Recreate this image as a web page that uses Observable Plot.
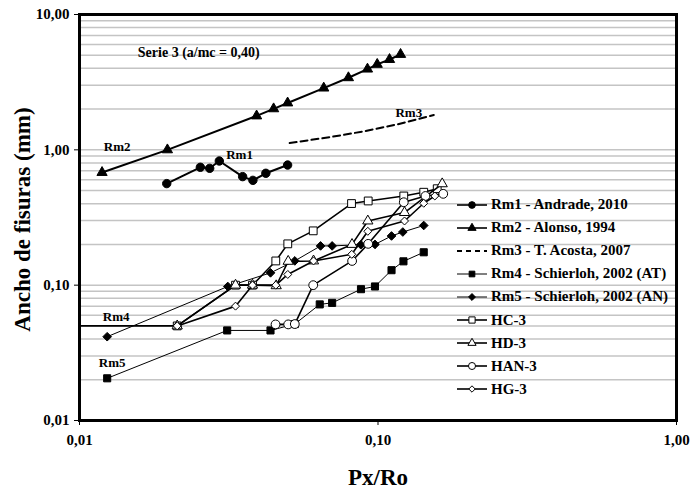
<!DOCTYPE html>
<html><head><meta charset="utf-8">
<script src="https://cdn.jsdelivr.net/npm/d3@7"></script>
<script src="https://cdn.jsdelivr.net/npm/@observablehq/plot@0.6"></script>
<style>
body{margin:0;background:#fff;}
#wrap{position:relative;width:690px;height:492px;font-family:"Liberation Serif","Times New Roman",serif;}
#legend{position:absolute;left:455px;top:193px;}
.row{height:23.1px;display:flex;align-items:center;font-weight:bold;font-size:15px;white-space:nowrap;color:#000;}
.row svg{margin-right:3px;}
</style></head><body><div id="wrap"></div>
<script>
// ---- data ----
const xTicks = [0.01, 0.1, 1];
const yTicks = [0.01, 0.1, 1, 10];

const rm1X = [0.0196, 0.0254, 0.0273, 0.0294, 0.0352, 0.0381, 0.0421, 0.0498];
const rm1Y = [0.563, 0.743, 0.730, 0.827, 0.634, 0.595, 0.671, 0.772];

const rm2X = [0.0119, 0.0197, 0.0392, 0.0447, 0.0498, 0.0658, 0.0796, 0.0922, 0.0994, 0.1093, 0.119];
const rm2Y = [0.68, 1.00, 1.78, 2.01, 2.22, 2.86, 3.41, 3.95, 4.28, 4.65, 5.07];

const rm3X = [0.0506, 0.0693, 0.0896, 0.1160, 0.1538];
const rm3Y = [1.122, 1.243, 1.369, 1.542, 1.806];

const rm4X = [0.01238, 0.03124, 0.04364, 0.05264, 0.0638, 0.0702, 0.0877, 0.0977, 0.111, 0.1217, 0.1423];
const rm4Y = [0.0205, 0.0463, 0.0463, 0.0516, 0.0721, 0.0740, 0.0934, 0.0978, 0.129, 0.150, 0.175];

const rm5X = [0.01238, 0.03139, 0.04364, 0.05264, 0.0642, 0.0702, 0.0876, 0.0977, 0.111, 0.1211, 0.1423];
const rm5Y = [0.0416, 0.0978, 0.1233, 0.1511, 0.195, 0.195, 0.199, 0.200, 0.231, 0.247, 0.276];

const hcX = [0.005, 0.02125, 0.03332, 0.03798, 0.04546, 0.04986, 0.06067, 0.08153, 0.09272, 0.1220, 0.1423, 0.1579];
const hcY = [0.050, 0.050, 0.100, 0.100, 0.151, 0.202, 0.252, 0.401, 0.419, 0.456, 0.486, 0.516];

const hdX = [0.02125, 0.03332, 0.03798, 0.0456, 0.05002, 0.06081, 0.08184, 0.09245, 0.1227, 0.1641];
const hdY = [0.050, 0.100, 0.100, 0.099, 0.150, 0.151, 0.200, 0.298, 0.344, 0.561];

const hanX = [0.04537, 0.05002, 0.05264, 0.06067, 0.0819, 0.09272, 0.1220, 0.1442, 0.1654];
const hanY = [0.0513, 0.0513, 0.0516, 0.100, 0.151, 0.202, 0.410, 0.456, 0.473];

const hgX = [0.02125, 0.03332, 0.03798, 0.04546, 0.04986, 0.06081, 0.08168, 0.09245, 0.1227, 0.1423, 0.155];
const hgY = [0.050, 0.070, 0.100, 0.100, 0.120, 0.151, 0.169, 0.250, 0.298, 0.403, 0.456];

const seriesNames = ["Rm1 - Andrade, 2010", "Rm2 - Alonso, 1994", "Rm3 - T. Acosta, 2007",
  "Rm4 - Schierloh, 2002 (AT)", "Rm5 - Schierloh, 2002 (AN)", "HC-3", "HD-3", "HAN-3", "HG-3"];

const annotTexts = ["Serie 3 (a/mc = 0,40)", "Rm2", "Rm1", "Rm3", "Rm4", "Rm5"];
const annotX = [0.01568, 0.01206, 0.0310, 0.1144, 0.01197, 0.01160];
const annotY = [5.27, 1.05, 0.922, 1.881, 0.0583, 0.0267];
const annotSize = [14, 13, 13, 13, 13, 13];

// ---- styling per series ----
const series = [
  {name: seriesNames[0], x: rm1X, y: rm1Y, symbol: "circle", r: 4.2, fill: "black", sw: 2},
  {name: seriesNames[1], x: rm2X, y: rm2Y, symbol: "triangle", r: 3.8, fill: "black", sw: 2},
  {name: seriesNames[2], x: rm3X, y: rm3Y, symbol: null, sw: 2, dash: "7,4"},
  {name: seriesNames[3], x: rm4X, y: rm4Y, symbol: "square", r: 4, fill: "black", sw: 1},
  {name: seriesNames[4], x: rm5X, y: rm5Y, symbol: "diamond2", r: 3.9, fill: "black", sw: 1},
  {name: seriesNames[5], x: hcX, y: hcY, symbol: "square", r: 4.4, fill: "white", sw: 1.6},
  {name: seriesNames[6], x: hdX, y: hdY, symbol: "triangle", r: 3.8, fill: "white", sw: 1.6},
  {name: seriesNames[7], x: hanX, y: hanY, symbol: "circle", r: 4.4, fill: "white", sw: 1.6},
  {name: seriesNames[8], x: hgX, y: hgY, symbol: "diamond2", r: 3.6, fill: "white", sw: 1.6}
];

const fmt = d => d3.format(".2f")(d).replace(".", ",");
const gridY = [];
for (const d of [0.01, 0.1, 1]) for (let k = 1; k <= 9; k++) if (!(d === 0.01 && k === 1)) gridY.push(k * d);

const marks = [
  Plot.ruleY(gridY, {stroke: "#c4c4c4", strokeWidth: 1.5}),
  Plot.axisY({ticks: yTicks, tickFormat: fmt, tickSize: 5, tickPadding: 5, label: null, fontSize: 15, fontWeight: "bold"}),
  Plot.axisX({ticks: xTicks, tickFormat: fmt, tickSize: 5, tickPadding: 9, label: null, fontSize: 15, fontWeight: "bold"})
];
for (const s of series) {
  const data = s.x.map((x, i) => ({x, y: s.y[i]}));
  marks.push(Plot.line(data, {x: "x", y: "y", stroke: "black", strokeWidth: s.sw, strokeDasharray: s.dash, clip: true}));
  if (s.symbol) marks.push(Plot.dot(data, {x: "x", y: "y", symbol: s.symbol, r: s.r, fill: s.fill, stroke: "black", strokeWidth: 1, clip: true}));
}
const annot = annotTexts.map((t, i) => ({t, x: annotX[i], y: annotY[i], s: annotSize[i]}));
marks.push(Plot.text(annot.filter(d => d.s === 14), {x: "x", y: "y", text: "t", textAnchor: "start", fontSize: 14, fontWeight: "bold"}));
marks.push(Plot.text(annot.filter(d => d.s === 13), {x: "x", y: "y", text: "t", textAnchor: "start", fontSize: 13, fontWeight: "bold"}));
marks.push(Plot.frame({stroke: "black", strokeWidth: 3}));
marks.push(Plot.text(["Ancho de fisuras (mm)"], {frameAnchor: "left", text: d => d, rotate: -90, textAnchor: "middle", dx: -57, dy: 2, fontSize: 23, fontWeight: "bold", lineAnchor: "middle"}));
marks.push(Plot.text(["Px/Ro"], {frameAnchor: "bottom", text: d => d, textAnchor: "middle", dy: 57, fontSize: 23, fontWeight: "bold", lineAnchor: "middle"}));

const chart = Plot.plot({
  width: 690, height: 492,
  marginLeft: 79, marginRight: 14, marginTop: 14, marginBottom: 72,
  x: {type: "log", domain: [0.01, 1]},
  y: {type: "log", domain: [0.01, 10]},
  style: {fontFamily: "'Liberation Serif', 'Times New Roman', serif", fontWeight: "bold", color: "black", background: "white", overflow: "visible"},
  marks
});
const wrap = document.getElementById("wrap");
wrap.appendChild(chart);

// ---- legend (inside plot area) ----
const symMap = {circle: d3.symbolCircle, triangle: d3.symbolTriangle, square: d3.symbolSquare, diamond2: d3.symbolDiamond2};
const legend = document.createElement("div");
legend.id = "legend";
for (const s of series) {
  const row = document.createElement("div");
  row.className = "row";
  const svg = d3.create("svg").attr("width", 33).attr("height", 14);
  svg.append("line").attr("x1", 2).attr("x2", 32).attr("y1", 7).attr("y2", 7)
    .attr("stroke", "black").attr("stroke-width", s.dash ? 2 : (s.sw >= 1.5 ? 1.6 : 1))
    .attr("stroke-dasharray", s.dash ? "5,4" : null);
  if (s.symbol) {
    const rr = s.r * 0.8;
    svg.append("path").attr("transform", "translate(17,7)")
      .attr("d", d3.symbol(symMap[s.symbol], Math.PI * rr * rr)())
      .attr("fill", s.fill).attr("stroke", "black").attr("stroke-width", 1);
  }
  row.appendChild(svg.node());
  const span = document.createElement("span");
  span.textContent = s.name;
  row.appendChild(span);
  legend.appendChild(row);
}
wrap.appendChild(legend);
</script></body></html>
